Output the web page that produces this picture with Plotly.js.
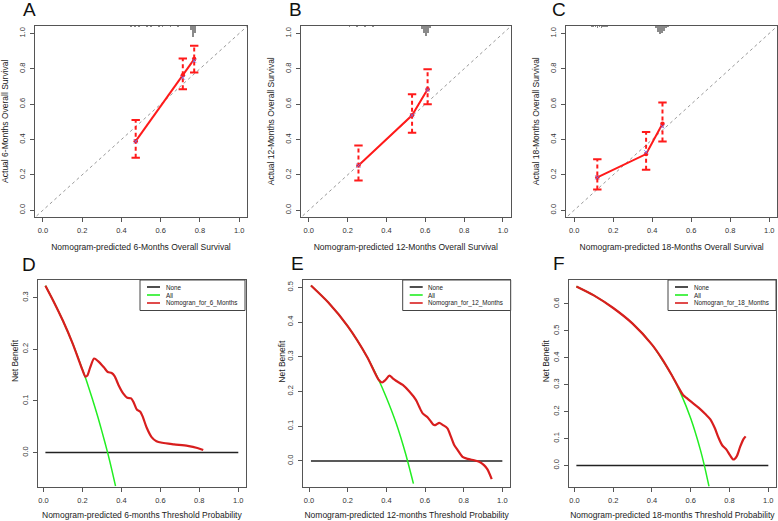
<!DOCTYPE html>
<html><head><meta charset="utf-8">
<script src="https://cdn.plot.ly/plotly-3.0.1.min.js"></script>
<style>html,body{margin:0;padding:0;background:#fff}#chart{width:778px;height:521px}</style>
</head><body><div id="chart"></div>
<script>
// ---------- Calibration data (A: 6 months, B: 12 months, C: 18 months) ----------
const calA_pred = [0.473, 0.713, 0.771];
const calA_obs  = [0.391, 0.764, 0.855];
const calA_lo   = [0.297, 0.685, 0.779];
const calA_hi   = [0.510, 0.859, 0.930];
const calA_corr = [0.390, 0.750, 0.845];

const calB_pred = [0.256, 0.532, 0.612];
const calB_obs  = [0.253, 0.537, 0.684];
const calB_lo   = [0.168, 0.439, 0.599];
const calB_hi   = [0.367, 0.656, 0.798];
const calB_corr = [0.253, 0.537, 0.680];

const calC_pred = [0.119, 0.369, 0.453];
const calC_obs  = [0.186, 0.318, 0.489];
const calC_lo   = [0.117, 0.229, 0.389];
const calC_hi   = [0.289, 0.442, 0.609];
const calC_corr = [0.186, 0.329, 0.474];

// risk distribution histograms at top of calibration plots (bin centre, depth)
const histA_x = [0.08, 0.12, 0.45, 0.47, 0.49, 0.51, 0.53, 0.55, 0.57, 0.59, 0.61, 0.63, 0.65, 0.67, 0.69, 0.755, 0.765, 0.775];
const histA_h = [0.003, 0.003, 0.006, 0.008, 0.006, 0.005, 0.008, 0.006, 0.005, 0.006, 0.008, 0.005, 0.006, 0.005, 0.006, 0.025, 0.064, 0.045];
const histB_x = [0.02, 0.19, 0.21, 0.23, 0.25, 0.27, 0.29, 0.31, 0.33, 0.35, 0.37, 0.39, 0.41, 0.43, 0.45, 0.47, 0.49, 0.585, 0.595, 0.605, 0.615, 0.625];
const histB_h = [0.003, 0.004, 0.006, 0.005, 0.007, 0.005, 0.006, 0.005, 0.006, 0.004, 0.005, 0.004, 0.005, 0.003, 0.004, 0.003, 0.003, 0.020, 0.045, 0.057, 0.040, 0.015];
const histC_x = [0.00, 0.09, 0.10, 0.11, 0.12, 0.13, 0.14, 0.15, 0.16, 0.17, 0.19, 0.21, 0.23, 0.25, 0.27, 0.29, 0.31, 0.42, 0.43, 0.44, 0.45, 0.46, 0.47, 0.48];
const histC_h = [0.004, 0.006, 0.008, 0.010, 0.012, 0.010, 0.012, 0.008, 0.010, 0.006, 0.004, 0.005, 0.004, 0.004, 0.003, 0.004, 0.003, 0.015, 0.035, 0.050, 0.045, 0.030, 0.015, 0.006];

const diagLine = [-0.1, 1.1];
const calTicks = [0, 0.2, 0.4, 0.6, 0.8, 1.0];

// ---------- Decision curve data (D: 6 months, E: 12 months, F: 18 months) ----------
const noneX = [0.01, 1.0];
const noneY = [0, 0];

const allD_x = [0.01, 0.05, 0.10, 0.15, 0.20, 0.22, 0.25, 0.28, 0.30, 0.33, 0.35, 0.37];
const allD_y = [0.323, 0.294, 0.255, 0.211, 0.161, 0.140, 0.105, 0.068, 0.041, -0.001, -0.032, -0.065];
const nomD_x = [0.01, 0.05, 0.10, 0.15, 0.20, 0.215, 0.225, 0.24, 0.26, 0.28, 0.31, 0.33, 0.35, 0.365, 0.385, 0.41, 0.43, 0.45, 0.462, 0.48, 0.497, 0.51, 0.53, 0.555, 0.58, 0.61, 0.67, 0.74, 0.79, 0.82];
const nomD_y = [0.323, 0.294, 0.255, 0.211, 0.160, 0.147, 0.149, 0.165, 0.182, 0.177, 0.165, 0.156, 0.154, 0.148, 0.131, 0.114, 0.106, 0.105, 0.098, 0.083, 0.079, 0.069, 0.048, 0.030, 0.022, 0.019, 0.016, 0.013, 0.009, 0.005];

const allE_x = [0.01, 0.10, 0.20, 0.30, 0.36, 0.40, 0.45, 0.50, 0.54];
const allE_y = [0.505, 0.456, 0.388, 0.300, 0.234, 0.183, 0.110, 0.020, -0.065];
const nomE_x = [0.01, 0.10, 0.20, 0.30, 0.36, 0.378, 0.395, 0.416, 0.433, 0.45, 0.485, 0.519, 0.553, 0.57, 0.588, 0.613, 0.631, 0.644, 0.656, 0.674, 0.691, 0.716, 0.734, 0.751, 0.768, 0.794, 0.82, 0.854, 0.88, 0.905, 0.923, 0.945];
const nomE_y = [0.505, 0.456, 0.388, 0.300, 0.234, 0.226, 0.233, 0.246, 0.238, 0.231, 0.219, 0.200, 0.176, 0.156, 0.137, 0.126, 0.113, 0.104, 0.104, 0.110, 0.104, 0.094, 0.070, 0.046, 0.032, 0.012, 0.006, 0.002, -0.002, -0.012, -0.024, -0.052];

const allF_x = [0.01, 0.10, 0.20, 0.30, 0.40, 0.50, 0.55, 0.60, 0.65, 0.67, 0.694];
const allF_y = [0.665, 0.632, 0.585, 0.527, 0.449, 0.338, 0.265, 0.174, 0.057, 0.000, -0.078];
const nomF_x = [0.01, 0.10, 0.20, 0.30, 0.40, 0.45, 0.50, 0.535, 0.56, 0.58, 0.605, 0.64, 0.675, 0.70, 0.725, 0.742, 0.762, 0.785, 0.802, 0.82, 0.837, 0.854, 0.871, 0.883];
const nomF_y = [0.665, 0.632, 0.585, 0.527, 0.449, 0.398, 0.338, 0.292, 0.262, 0.250, 0.235, 0.215, 0.191, 0.172, 0.137, 0.105, 0.075, 0.058, 0.038, 0.022, 0.034, 0.068, 0.097, 0.108];

const dcaTicksD = [0, 0.1, 0.2, 0.3];
const dcaTicksE = [0, 0.1, 0.2, 0.3, 0.4, 0.5];
const dcaTicksF = [0, 0.1, 0.2, 0.3, 0.4, 0.5, 0.6];
const dcaXTicks = [0, 0.2, 0.4, 0.6, 0.8, 1.0];

const legendNames = ['None', 'All'];
const nomLabels = ['Nomogran_for_6_Months', 'Nomogran_for_12_Months', 'Nomogran_for_18_Months'];

// ---------- Styling ----------
const FONT = 'Liberation Sans, Arial, Helvetica, sans-serif';
const W = 778, H = 521;
const px = v => v / W;
const py = v => 1 - v / H;
const CAL_RED = '#ff1a1a';
const DCA_RED = '#d81e1e';
const NONE_COL = '#222';
const ALL_COL = '#22ee22';
const CAL_YR = [-0.038, 1.045];

const traces = [];

function calTraces(xa, ya, pred, obs, lo, hi, corr, hx, hh) {
  traces.push({type: 'bar', x: hx, y: hh.map(v => -v), base: CAL_YR[1], width: 0.009,
    marker: {color: '#8a8a8a', line: {width: 0}}, xaxis: xa, yaxis: ya, showlegend: false, hoverinfo: 'skip'});
  traces.push({type: 'scatter', mode: 'lines', x: diagLine, y: diagLine,
    line: {color: '#999', width: 1, dash: 'dot'}, xaxis: xa, yaxis: ya, showlegend: false, hoverinfo: 'skip'});
  const ex = [], ey = [];
  pred.forEach((p, i) => { ex.push(p, p, null); ey.push(lo[i], hi[i], null); });
  traces.push({type: 'scatter', mode: 'lines', x: ex, y: ey,
    line: {color: CAL_RED, width: 2, dash: '4px,3px'}, xaxis: xa, yaxis: ya, showlegend: false, hoverinfo: 'skip'});
  traces.push({type: 'scatter', mode: 'markers', x: pred.concat(pred), y: hi.concat(lo),
    marker: {symbol: 'line-ew', size: 6, line: {color: CAL_RED, width: 2}}, xaxis: xa, yaxis: ya, showlegend: false, hoverinfo: 'skip'});
  traces.push({type: 'scatter', mode: 'lines+markers', x: pred, y: obs,
    line: {color: CAL_RED, width: 2}, marker: {color: CAL_RED, size: 4.5},
    xaxis: xa, yaxis: ya, showlegend: false});
  traces.push({type: 'scatter', mode: 'markers', x: pred, y: corr,
    marker: {symbol: 'x-thin', size: 4, line: {color: '#6677ff', width: 0.8}},
    xaxis: xa, yaxis: ya, showlegend: false});
}

function dcaTraces(xa, ya, ax, ay, nx, ny, label) {
  traces.push({type: 'scatter', mode: 'lines', x: noneX, y: noneY, name: legendNames[0],
    line: {color: NONE_COL, width: 1.5}, xaxis: xa, yaxis: ya, showlegend: false});
  traces.push({type: 'scatter', mode: 'lines', x: ax, y: ay, name: legendNames[1],
    line: {color: ALL_COL, width: 1.5, shape: 'spline', smoothing: 0.6}, xaxis: xa, yaxis: ya, showlegend: false});
  traces.push({type: 'scatter', mode: 'lines', x: nx, y: ny, name: label,
    line: {color: DCA_RED, width: 2.2, shape: 'spline', smoothing: 0.7}, xaxis: xa, yaxis: ya, showlegend: false});
}

calTraces('x', 'y', calA_pred, calA_obs, calA_lo, calA_hi, calA_corr, histA_x, histA_h);
calTraces('x2', 'y2', calB_pred, calB_obs, calB_lo, calB_hi, calB_corr, histB_x, histB_h);
calTraces('x3', 'y3', calC_pred, calC_obs, calC_lo, calC_hi, calC_corr, histC_x, histC_h);
dcaTraces('x4', 'y4', allD_x, allD_y, nomD_x, nomD_y, nomLabels[0]);
dcaTraces('x5', 'y5', allE_x, allE_y, nomE_x, nomE_y, nomLabels[1]);
dcaTraces('x6', 'y6', allF_x, allF_y, nomF_x, nomF_y, nomLabels[2]);

function axis(domain, range, tickvals, title, anchor, isY, standoff) {
  const a = {
    domain: domain, range: range, anchor: anchor, tickvals: tickvals, tickformat: '.1f',
    showgrid: false, zeroline: false, showline: true, mirror: true, linecolor: '#555', linewidth: 1,
    ticks: 'outside', ticklen: 4, tickwidth: 1, tickcolor: '#555', ticklabelstandoff: 2,
    tickfont: {size: 7.5, color: '#333', family: FONT}, fixedrange: true,
    title: {text: title, font: {size: 8.5, color: '#222', family: FONT}, standoff: standoff}
  };
  if (isY) a.tickangle = -90;
  return a;
}

const calXR = [-0.04, 1.04];
const dcaXR = [-0.0296, 1.0396];
const topY = [py(217), py(25.5)];
const botY = [py(486.7), py(280)];

// hand-drawn legend boxes (R style)
const shapes = [];
const annotations = [];
function legendBox(left, right, label) {
  const top = 280, bottom = 310.5;
  shapes.push({type: 'rect', xref: 'paper', yref: 'paper', x0: px(left), x1: px(right), y0: py(bottom), y1: py(top),
    line: {color: '#444', width: 1}, fillcolor: '#fff', layer: 'above'});
  const rows = [287, 295, 303];
  const names = [legendNames[0], legendNames[1], label];
  const cols = [NONE_COL, ALL_COL, DCA_RED];
  rows.forEach((r, i) => {
    shapes.push({type: 'line', xref: 'paper', yref: 'paper', x0: px(left + 7), x1: px(left + 20), y0: py(r), y1: py(r),
      line: {color: cols[i], width: 1.6}, layer: 'above'});
    annotations.push({text: names[i], x: px(left + 23.5), y: py(r), xref: 'paper', yref: 'paper', showarrow: false,
      xanchor: 'left', yanchor: 'middle', font: {size: 6.3, family: FONT, color: '#222'}});
  });
}
legendBox(140, 245, nomLabels[0]);
legendBox(402.7, 510.7, nomLabels[1]);
legendBox(668, 776, nomLabels[2]);

const letter = (t, x, y) => ({text: t, x: px(x), y: py(y), xref: 'paper', yref: 'paper', showarrow: false,
  xanchor: 'center', yanchor: 'middle', font: {size: 19, family: FONT, color: '#111'}});
const nb = (x) => ({text: 'Net Benefit', x: px(x), y: py(361), xref: 'paper', yref: 'paper', showarrow: false,
  textangle: -90, xanchor: 'center', yanchor: 'middle', font: {size: 8.5, family: FONT, color: '#222'}});
annotations.push(letter('A', 29, 10), letter('B', 295, 9), letter('C', 559, 10),
  letter('D', 29, 264), letter('E', 297, 263), letter('F', 559, 263), nb(15), nb(281.7), nb(546.3));

const layout = {
  width: W, height: H, margin: {l: 0, r: 0, t: 0, b: 0}, paper_bgcolor: '#fff', plot_bgcolor: '#fff',
  showlegend: false, bargap: 0,
  xaxis:  axis([px(35), px(247)], calXR, calTicks, 'Nomogram-predicted 6-Months Overall Survival', 'y', false, 10),
  yaxis:  axis(topY, CAL_YR, calTicks, 'Actual 6-Months Overall Survival', 'x', true, 8),
  xaxis2: axis([px(301), px(510.7)], calXR, calTicks, 'Nomogram-predicted 12-Months Overall Survival', 'y2', false, 10),
  yaxis2: axis(topY, CAL_YR, calTicks, 'Actual 12-Months Overall Survival', 'x2', true, 8),
  xaxis3: axis([px(566.3), px(777)], calXR, calTicks, 'Nomogram-predicted 18-Months Overall Survival', 'y3', false, 10),
  yaxis3: axis(topY, CAL_YR, calTicks, 'Actual 18-Months Overall Survival', 'x3', true, 8),
  xaxis4: axis([px(37.7), px(246)], dcaXR, dcaXTicks, 'Nomogram-predicted 6-months Threshold Probability', 'y4', false, 8),
  yaxis4: axis(botY, [-0.066, 0.334], dcaTicksD, '', 'x4', true, 8),
  xaxis5: axis([px(303.3), px(510)], dcaXR, dcaXTicks, 'Nomogram-predicted 12-months Threshold Probability', 'y5', false, 8),
  yaxis5: axis(botY, [-0.074, 0.521], dcaTicksE, '', 'x5', true, 8),
  xaxis6: axis([px(568.7), px(776)], dcaXR, dcaXTicks, 'Nomogram-predicted 18-months Threshold Probability', 'y6', false, 8),
  yaxis6: axis(botY, [-0.079, 0.689], dcaTicksF, '', 'x6', true, 8),
  shapes: shapes,
  annotations: annotations
};

Plotly.newPlot('chart', traces, layout, {staticPlot: true, displayModeBar: false});
</script>
</body></html>
